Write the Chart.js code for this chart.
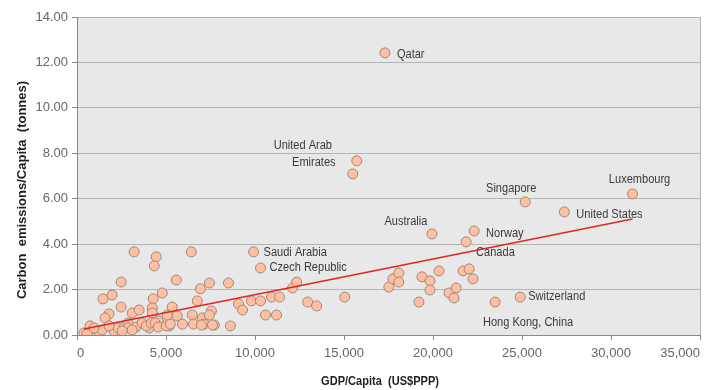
<!DOCTYPE html>
<html>
<head>
<meta charset="utf-8">
<script src="https://cdn.jsdelivr.net/npm/chart.js@4/dist/chart.umd.min.js"></script>
<style>
  html, body { margin: 0; padding: 0; background: #ffffff; }
  #wrap { width: 710px; height: 390px; position: relative; }
</style>
</head>
<body>
<div id="wrap"><canvas id="c" width="710" height="390"></canvas></div>
<script>
// GDP per capita (US$ PPP) and carbon emissions per capita (tonnes) by country

// named countries
const countryNames = ['Qatar', 'United Arab Emirates', 'Saudi Arabia', 'Czech Republic', 'Australia',
  'Norway', 'Canada', 'Singapore', 'United States', 'Luxembourg', 'Switzerland', 'Hong Kong, China'];
const countryGdp = [17300, 15720, 9920, 10310, 19940, 22310, 21860, 25180, 27380, 31210, 24900, 23490];
const countryCo2 = [12.42, 7.67, 3.66, 2.95, 4.45, 4.58, 4.10, 5.86, 5.42, 6.21, 1.67, 1.45];

// remaining countries
const otherGdp = [3210, 4450, 4340, 2480, 5580, 6420, 1460, 1970, 2480, 4280, 4790, 6930, 7440, 8510, 6760,
  5350, 1800, 1580, 3100, 3490, 4230, 4230, 5630, 6480, 7040, 7550, 7440, 9070, 9300, 9800, 10310, 10930,
  11380, 10590, 11210, 12110, 12340, 12960, 13460, 15040, 8620, 7720, 7150, 6540, 5920, 5180, 4560, 4060,
  390, 730, 850, 1070, 1240, 1410, 2080, 2310, 2650, 2870, 3320, 2870, 3660, 3890, 4170, 4390, 4560, 5070,
  5010, 5240, 6990, 7610, 560, 960, 1800, 2540, 3100, 17520, 17750, 18080, 18080, 19380, 19830, 19830,
  20340, 19210, 20900, 21300, 21180, 21690, 22030, 22250, 15490];
const otherCo2 = [3.66, 3.44, 3.04, 2.33, 2.42, 3.66, 1.59, 1.76, 1.23, 1.59, 1.85, 2.03, 2.29, 2.29, 1.50,
  1.23, 0.93, 0.75, 0.97, 1.10, 1.19, 0.97, 0.84, 0.88, 0.75, 1.06, 0.88, 1.37, 1.10, 1.50, 1.50, 1.67,
  1.67, 0.88, 0.88, 2.07, 2.33, 1.45, 1.28, 1.67, 0.40, 0.44, 0.48, 0.48, 0.48, 0.40, 0.62, 0.31,
  0.09, 0.40, 0.13, 0.13, 0.13, 0.22, 0.18, 0.31, 0.35, 0.53, 0.35, 0.31, 0.53, 0.40, 0.53, 0.53, 0.35, 0.88,
  0.40, 0.48, 0.44, 0.44, 0.04, 0.31, 0.40, 0.18, 0.22, 2.11, 2.47, 2.73, 2.33, 2.56, 2.38, 1.98,
  2.82, 1.45, 1.85, 2.07, 1.63, 2.82, 2.91, 2.47, 7.09];

// linear trend end points
const trendGdp = [390, 31210];
const trendCo2 = [0.26, 5.11];

const xTitle = 'GDP/Capita  (US$PPP)';
const yTitle = 'Carbon  emissions/Capita  (tonnes)';

const FONT = "'Liberation Sans Narrow', 'Liberation Sans', Arial, sans-serif";

// where each country name sits relative to its marker
const labelPlacement = {
  'Qatar':            [{ text: 'Qatar', dx: 12, dy: 2, align: 'left' }],
  'United Arab Emirates': [{ text: 'United Arab', dx: -54, dy: -15, align: 'center' },
                           { text: 'Emirates', dx: -43, dy: 2, align: 'center' }],
  'Saudi Arabia':     [{ text: 'Saudi Arabia', dx: 10, dy: 1, align: 'left' }],
  'Czech Republic':   [{ text: 'Czech Republic', dx: 9, dy: 0, align: 'left' }],
  'Australia':        [{ text: 'Australia', dx: -26, dy: -12, align: 'center' }],
  'Norway':           [{ text: 'Norway', dx: 12, dy: 3, align: 'left' }],
  'Canada':           [{ text: 'Canada', dx: 10, dy: 11, align: 'left' }],
  'Singapore':        [{ text: 'Singapore', dx: -14, dy: -13, align: 'center' }],
  'United States':    [{ text: 'United States', dx: 12, dy: 3, align: 'left' }],
  'Luxembourg':       [{ text: 'Luxembourg', dx: 7, dy: -14, align: 'center' }],
  'Switzerland':      [{ text: 'Switzerland', dx: 8, dy: 0, align: 'left' }],
  'Hong Kong, China': [{ text: 'Hong Kong, China', dx: 33, dy: 21, align: 'center' }]
};

const toPoints = (xs, ys) => xs.map((x, i) => ({ x: x, y: ys[i] }));

// condensed text helper: squeezes glyphs horizontally around the anchor
function condensedText(ctx, text, x, y, squeeze) {
  ctx.save();
  ctx.translate(x, y);
  ctx.scale(squeeze, 1);
  ctx.fillText(text, 0, 0);
  ctx.restore();
}

const plotBackground = {
  id: 'plotBackground',
  beforeDraw(chart) {
    const { ctx, chartArea: a } = chart;
    ctx.save();
    ctx.fillStyle = '#e8e8e8';
    ctx.fillRect(a.left, a.top, a.right - a.left, a.bottom - a.top);
    ctx.restore();
  }
};

const countryLabels = {
  id: 'countryLabels',
  afterDatasetsDraw(chart) {
    const { ctx, scales } = chart;
    ctx.save();
    ctx.font = "12px " + FONT;
    ctx.fillStyle = '#3a3a3a';
    ctx.textBaseline = 'middle';
    countryNames.forEach((name, i) => {
      const px = scales.x.getPixelForValue(countryGdp[i]);
      const py = scales.y.getPixelForValue(countryCo2[i]);
      (labelPlacement[name] || []).forEach(l => {
        ctx.textAlign = l.align;
        condensedText(ctx, l.text, px + l.dx, py + l.dy, 0.92);
      });
    });
    ctx.restore();
  }
};

const axisTitles = {
  id: 'axisTitles',
  afterDraw(chart) {
    const { ctx } = chart;
    ctx.save();
    ctx.fillStyle = '#1e1e1e';
    ctx.font = "bold 13px " + FONT;
    ctx.textAlign = 'center';
    ctx.textBaseline = 'middle';
    condensedText(ctx, xTitle, 380, 381, 0.85);
    ctx.translate(22, 190);
    ctx.rotate(-Math.PI / 2);
    ctx.fillText(yTitle, 0, 0);
    ctx.restore();
  }
};

const pointStyle = {
  pointRadius: 5,
  pointHoverRadius: 5,
  pointBackgroundColor: '#ffbfa0',
  pointBorderColor: '#9c8a80',
  pointBorderWidth: 1,
  showLine: false
};

new Chart(document.getElementById('c'), {
  type: 'scatter',
  data: {
    datasets: [
      Object.assign({ label: 'Countries', data: toPoints(otherGdp, otherCo2), order: 2 }, pointStyle),
      Object.assign({ label: 'Named countries', data: toPoints(countryGdp, countryCo2), order: 2 }, pointStyle),
      {
        label: 'Trend',
        type: 'line',
        data: toPoints(trendGdp, trendCo2),
        borderColor: '#e3261c',
        borderWidth: 1.5,
        pointRadius: 0,
        fill: false,
        order: 1
      }
    ]
  },
  options: {
    responsive: false,
    animation: false,
    devicePixelRatio: 1,
    layout: { autoPadding: false, padding: { top: 17, right: 10, bottom: 0, left: 0 } },
    plugins: { legend: { display: false }, tooltip: { enabled: false } },
    scales: {
      x: {
        type: 'linear',
        min: 0, max: 35000,
        afterFit: s => { s.height = 55; s.paddingLeft = 0; s.paddingRight = 0; },
        border: { display: true, color: '#8a8a8a', width: 1 },
        grid: {
          drawOnChartArea: true,
          color: c => (c.tick && c.tick.value === 35000) ? '#b4b4b4' : 'rgba(0,0,0,0)',
          tickColor: '#8a8a8a',
          tickLength: 5
        },
        ticks: {
          stepSize: 5000,
          maxRotation: 0,
          align: 'inner',
          padding: 6,
          color: '#666666',
          font: { family: FONT, size: 13 },
          callback: v => v.toLocaleString('en-US')
        }
      },
      y: {
        type: 'linear',
        min: 0, max: 14,
        afterFit: s => { s.width = 77; s.paddingTop = 0; s.paddingBottom = 0; },
        border: { display: true, color: '#8a8a8a', width: 1 },
        grid: { color: '#b4b4b4', tickColor: '#8a8a8a', tickLength: 5 },
        ticks: {
          stepSize: 2,
          padding: 4,
          color: '#666666',
          font: { family: FONT, size: 13 },
          callback: v => v.toFixed(2)
        }
      }
    }
  },
  plugins: [plotBackground, countryLabels, axisTitles]
});
</script>
</body>
</html>
